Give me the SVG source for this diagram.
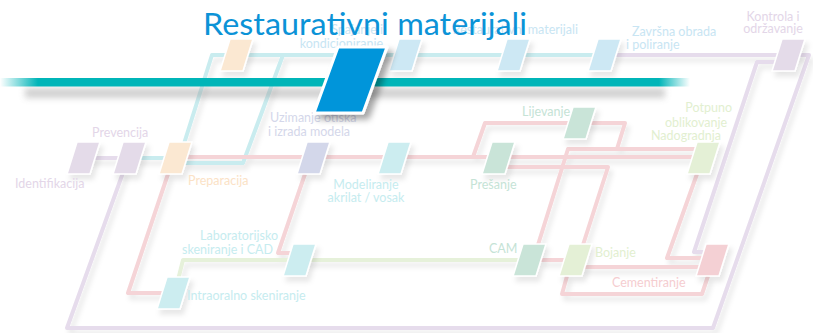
<svg xmlns="http://www.w3.org/2000/svg" xmlns:xlink="http://www.w3.org/1999/xlink" width="813" height="333" viewBox="0 0 813 333">
<defs>
<style>
.c{fill:none;stroke-width:4;stroke-linejoin:round;stroke-linecap:butt}
.lav{stroke:#e6dcec}
.tea{stroke:#c9ecef}
.pnk{stroke:#f5d4d7}
.grn{stroke:#e6f1da}
.nd{stroke:#fff;stroke-width:1.6}
.t{font-family:Lato,"Open Sans","Liberation Sans",sans-serif;font-size:12.5px}
.tl{fill:#e3d6e8}.to{fill:#fbe2c6}.tb{fill:#c8e5f3}.tc{fill:#c6ecef}.tg{fill:#c5e3d6}.ty{fill:#e2efd0}.tp{fill:#f5cdd0}.ts{fill:#d4d7ea}
</style>
<path id="n" d="M10,0 H33 L23,32 H0 Z"/>
<filter id="sh" x="-20%" y="-20%" width="150%" height="160%">
<feDropShadow dx="3" dy="5" stdDeviation="2.5" flood-color="#000" flood-opacity="0.09"/>
</filter>
<filter id="shb" x="-30%" y="-20%" width="170%" height="150%">
<feDropShadow dx="5" dy="5" stdDeviation="3" flood-color="#000" flood-opacity="0.35"/>
</filter>
<filter id="bl" x="-10%" y="-100%" width="120%" height="300%">
<feGaussianBlur stdDeviation="3"/>
</filter>
<linearGradient id="bar" gradientUnits="userSpaceOnUse" x1="0" y1="0" x2="690" y2="0">
<stop offset="0" stop-color="#00b5b8" stop-opacity="0"/>
<stop offset="0.055" stop-color="#00b5b8"/>
<stop offset="0.955" stop-color="#00b5b8"/>
<stop offset="1" stop-color="#00b5b8" stop-opacity="0"/>
</linearGradient>
</defs>

<g id="connectors" filter="url(#sh)">
<path class="c lav" d="M85,158 H125"/>
<path class="c lav" d="M610,55 H790"/>
<path class="c lav" d="M785,62 H757 L694,252 H710"/>
<path class="c lav" d="M795,55 H809 L713,328 H67 L124,170"/>
<path class="c tea" d="M135,158 H172"/>
<path class="c tea" d="M182,150 L212,55 H600"/>
<path class="c tea" d="M185,163 H243 L283,55"/>
<path class="c pnk" d="M185,157 H700"/>
<path class="c pnk" d="M473,157 L485,123 H625 L617,149"/>
<path class="c pnk" d="M537,248 L568,149 H700"/>
<path class="c pnk" d="M505,167 H608 L582,248"/>
<path class="c pnk" d="M697,174 L667,258 H705"/>
<path class="c pnk" d="M580,267 H705"/>
<path class="c pnk" d="M708,276 L702,294 H562 L567,276"/>
<path class="c pnk" d="M540,260 H565"/>
<path class="c pnk" d="M168,174 L128,293 H165"/>
<path class="c pnk" d="M305,174 L278,253 H292"/>
<path class="c grn" d="M178,280 L183,260 H520"/>
</g>

<g id="n-identifikacija"><use href="#n" x="67" y="142" class="nd" fill="#e4dbe9" filter="url(#sh)"/><text class="t tl" x="15" y="188">Identifikacija</text></g>
<g id="n-prevencija"><use href="#n" x="113" y="142" class="nd" fill="#e4dbe9" filter="url(#sh)"/><text class="t tl" x="92" y="137">Prevencija</text></g>
<g id="n-preparacija"><use href="#n" x="159" y="142" class="nd" fill="#fbe8d2" filter="url(#sh)"/><text class="t to" x="188" y="185">Preparacija</text></g>
<g id="n-uzimanje"><use href="#n" x="297" y="142" class="nd" fill="#d3d7ea" filter="url(#sh)"/><text class="t ts" x="270" y="122">Uzimanje otiska</text><text class="t ts" x="268" y="136">i izrada modela</text></g>
<g id="n-modeliranje"><use href="#n" x="378" y="142" class="nd" fill="#ccedf0" filter="url(#sh)"/><text class="t tc" x="366" y="189" text-anchor="middle">Modeliranje</text><text class="t tc" x="366" y="202" text-anchor="middle">akrilat / vosak</text></g>
<g id="n-presanje"><use href="#n" x="482" y="142" class="nd" fill="#c9e4d8" filter="url(#sh)"/><text class="t tg" x="470" y="189">Prešanje</text></g>
<g id="n-lijevanje"><use href="#n" x="563" y="107" class="nd" fill="#c9e4d8" filter="url(#sh)"/><text class="t tg" x="522" y="116">Lijevanje</text></g>
<g id="n-nadogradnja"><use href="#n" x="687" y="142" class="nd" fill="#e4f0d6" filter="url(#sh)"/><text class="t ty" x="732" y="112" text-anchor="end">Potpuno</text><text class="t ty" x="727" y="127" text-anchor="end">oblikovanje</text><text class="t ty" x="721" y="140" text-anchor="end">Nadogradnja</text></g>
<g id="n-lab"><use href="#n" x="283" y="244" class="nd" fill="#ccedf0" filter="url(#sh)"/><text class="t tc" x="278" y="240" text-anchor="end">Laboratorijsko</text><text class="t tc" x="273" y="254" text-anchor="end">skeniranje i CAD</text></g>
<g id="n-cam"><use href="#n" x="513" y="244" class="nd" fill="#c9e4d8" filter="url(#sh)"/><text class="t tg" x="489" y="253">CAM</text></g>
<g id="n-bojanje"><use href="#n" x="559" y="244" class="nd" fill="#e4f0d6" filter="url(#sh)"/><text class="t ty" x="595" y="257">Bojanje</text></g>
<g id="n-cementiranje"><use href="#n" x="696" y="244" class="nd" fill="#f4d0d4" filter="url(#sh)"/><text class="t tp" x="612" y="287">Cementiranje</text></g>
<g id="n-intraoralno"><use href="#n" x="157" y="277" class="nd" fill="#ccedf0" filter="url(#sh)"/><text class="t tc" x="187" y="300">Intraoralno skeniranje</text></g>
<g id="n-top-orange"><use href="#n" x="220" y="39" class="nd" fill="#fbe8d2" filter="url(#sh)"/></g>
<g id="n-spajanje"><use href="#n" x="389" y="39" class="nd" fill="#cde8f4" filter="url(#sh)"/><text class="t tb" x="383" y="34" text-anchor="end">Spajanje i</text><text class="t tb" x="383" y="48" text-anchor="end">kondicioniranje</text></g>
<g id="n-restaurativni-small"><use href="#n" x="497" y="39" class="nd" fill="#cde8f4" filter="url(#sh)"/><text class="t tb" x="578" y="34" text-anchor="end">Restaurativni materijali</text></g>
<g id="n-zavrsna"><use href="#n" x="588" y="39" class="nd" fill="#cde8f4" filter="url(#sh)"/><text class="t tb" x="632" y="36">Završna obrada</text><text class="t tb" x="626" y="49">i poliranje</text></g>
<g id="n-kontrola"><use href="#n" x="772" y="39" class="nd" fill="#e4dbe9" filter="url(#sh)"/><text class="t tl" x="773" y="21" text-anchor="middle">Kontrola i</text><text class="t tl" x="773" y="33" text-anchor="middle">održavanje</text></g>

<g id="bar">
<rect x="25" y="88" width="640" height="10" fill="#9a9a9a" opacity="0.45" filter="url(#bl)"/>
<rect x="0" y="78" width="690" height="8.5" fill="url(#bar)"/>
</g>

<g id="n-restaurativni-materijali">
<path d="M338,47 H387 L363,113 H314 Z" fill="#0095da" stroke="#fff" stroke-width="3" stroke-linejoin="round" filter="url(#shb)"/>
<text x="203" y="35" font-family="Lato,'Open Sans','Liberation Sans',sans-serif" font-size="31" fill="#0b93d7" textLength="324" lengthAdjust="spacingAndGlyphs">Restaurativni materijali</text>
</g>
</svg>
